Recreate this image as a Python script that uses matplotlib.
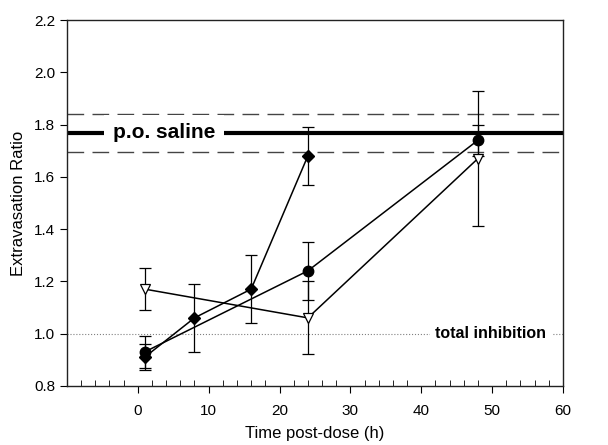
import numpy as np
import matplotlib.pyplot as plt
from matplotlib.ticker import MultipleLocator

plt.rcParams['font.family'] = ['Liberation Sans', 'DejaVu Sans']

# filled diamonds
t_dia = [1, 8, 16, 24]
y_dia = [0.91, 1.06, 1.17, 1.68]
e_dia = [0.05, 0.13, 0.13, 0.11]

# filled circles
t_cir = [1, 24, 48]
y_cir = [0.93, 1.24, 1.74]
e_cir = [0.06, 0.11, 0.06]

# open down triangles
t_tri = [1, 24, 48]
y_tri = [1.17, 1.06, 1.67]
e_tri = [0.08, 0.14, 0.26]

saline = 1.768
saline_lo = 1.695
saline_hi = 1.842
inhib = 1.0

fig = plt.figure(figsize=(6.08, 4.45), dpi=100)
ax = fig.add_axes([0.110, 0.133, 0.816, 0.822])

# reference lines
ax.axhline(saline_hi, color='#444444', lw=1.0, dashes=(12, 6), zorder=1)
ax.axhline(saline_lo, color='#444444', lw=1.0, dashes=(12, 6), zorder=1)
ax.axhline(saline, color='black', lw=3.0, zorder=1)
ax.axhline(inhib, color='gray', lw=0.8, ls=':', zorder=1)

ax.text(3.7, saline, 'p.o. saline', fontsize=15, fontweight='bold',
        ha='center', va='center', zorder=2,
        bbox=dict(facecolor='white', edgecolor='none', pad=6))
ax.text(49.8, inhib, 'total inhibition', fontsize=11.5, fontweight='bold',
        ha='center', va='center', zorder=2,
        bbox=dict(facecolor='white', edgecolor='none', pad=4))

kw = dict(color='black', ecolor='black', elinewidth=0.9, capsize=4,
          capthick=0.9, lw=1.1, zorder=3)
ax.errorbar(t_tri, y_tri, yerr=e_tri, marker='v', ms=7, mfc='white',
            mec='black', mew=0.9, **kw)
ax.errorbar(t_cir, y_cir, yerr=e_cir, marker='o', ms=7.5, mfc='black',
            mec='black', **kw)
ax.errorbar(t_dia, y_dia, yerr=e_dia, marker='D', ms=6, mfc='black',
            mec='black', **kw)

ax.set_xlim(-10, 60)
ax.set_ylim(0.8, 2.2)
ax.set_xticks([0, 10, 20, 30, 40, 50, 60])
ax.xaxis.set_minor_locator(MultipleLocator(2))
ax.set_yticks(np.arange(0.8, 2.21, 0.2))
ax.yaxis.set_major_formatter(plt.FormatStrFormatter('%.1f'))

ax.tick_params(axis='x', which='major', direction='out', length=5,
               labelsize=11, pad=8)
ax.tick_params(axis='x', which='minor', direction='in', length=4)
ax.tick_params(axis='y', which='major', direction='out', length=5,
               labelsize=11)
ax.xaxis.set_ticks_position('bottom')
ax.yaxis.set_ticks_position('left')

for s in ax.spines.values():
    s.set_linewidth(1.0)
    s.set_color('#222222')

ax.set_xlabel('Time post-dose (h)', fontsize=12, labelpad=6)
ax.set_ylabel('Extravasation Ratio', fontsize=12, labelpad=6)

fig.savefig('out.png', dpi=100)
